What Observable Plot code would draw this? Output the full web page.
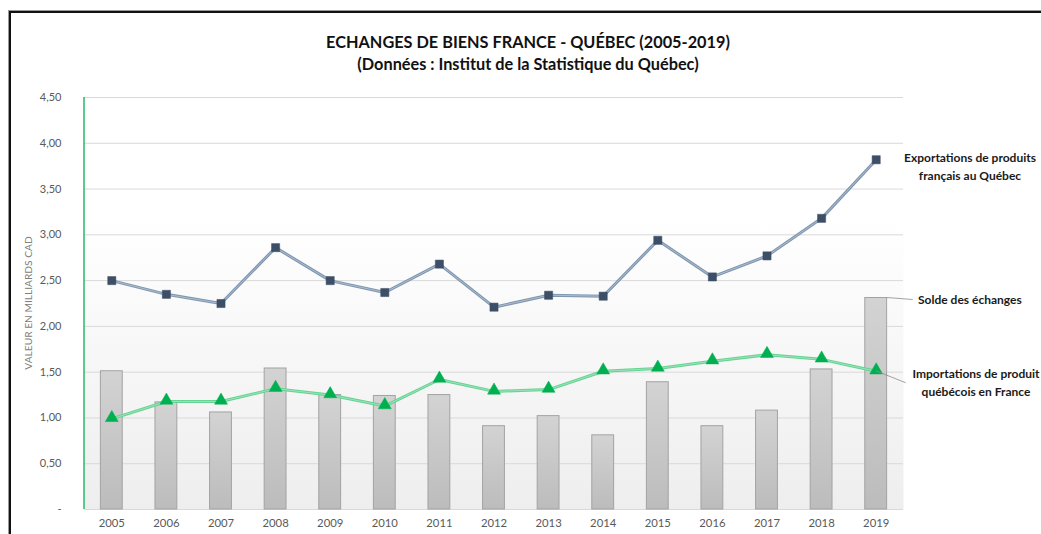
<!DOCTYPE html>
<html>
<head>
<meta charset="utf-8">
<script src="https://cdn.jsdelivr.net/npm/d3@7"></script>
<script src="https://cdn.jsdelivr.net/npm/@observablehq/plot@0.6"></script>
<style>
  html, body { margin: 0; padding: 0; background: #fff; }
  #wrap { position: relative; width: 1041px; height: 534px; overflow: hidden; font-family: Lato, "Open Sans", sans-serif; }
  #wrap svg { position: absolute; left: 0; top: 0; }
  .border { position: absolute; left: 9px; top: 11px; width: 1100px; height: 600px; border-left: 2px solid #111; border-top: 2px solid #111; box-shadow: -1px -1px 0 #999; }
  .title { position: absolute; left: 528px; transform: translateX(-50%); white-space: nowrap; font-weight: bold; font-size: 16.3px; color: #111; }
  .ylab { position: absolute; left: 28px; top: 303px; transform: translate(-50%, -50%) rotate(-90deg); white-space: nowrap; font-size: 10.2px; color: #808080; }
  .ann { position: absolute; font-weight: bold; font-size: 12px; color: #1a1a1a; white-space: nowrap; text-align: center; line-height: 18px; }
</style>
</head>
<body>
<div id="wrap">
  <div class="border"></div>
</div>
<script>
const years = [2005, 2006, 2007, 2008, 2009, 2010, 2011, 2012, 2013, 2014, 2015, 2016, 2017, 2018, 2019];
const exportations = [2.50, 2.35, 2.25, 2.86, 2.50, 2.37, 2.68, 2.21, 2.34, 2.33, 2.94, 2.54, 2.77, 3.18, 3.82];
const importations = [0.99, 1.18, 1.18, 1.32, 1.25, 1.13, 1.42, 1.29, 1.31, 1.51, 1.54, 1.62, 1.69, 1.64, 1.51];
const solde = [1.51, 1.17, 1.06, 1.54, 1.25, 1.24, 1.25, 0.91, 1.02, 0.81, 1.39, 0.91, 1.08, 1.53, 2.31];
const yTicks = [0, 0.5, 1, 1.5, 2, 2.5, 3, 3.5, 4, 4.5];

const titleText = "ECHANGES DE BIENS FRANCE - QUÉBEC (2005-2019)";
const subtitleText = "(Données : Institut de la Statistique du Québec)";
const yLabel = "VALEUR EN MILLIARDS CAD";
const labelExports = ["Exportations de produits", "français au Québec"];
const labelSolde = "Solde des échanges";
const labelImports = ["Importations de produit", "québécois en France"];

const data = years.map((y, i) => ({year: String(y), exp: exportations[i], imp: importations[i], solde: solde[i]}));

const plot = Plot.plot({
  width: 1041,
  height: 534,
  marginLeft: 84,
  marginRight: 138,
  marginTop: 97,
  marginBottom: 25,
  style: {fontFamily: "Lato, 'Open Sans', sans-serif", fontSize: "11px", color: "#595959", background: "transparent"},
  x: {type: "band", domain: years.map(String), paddingInner: 0.6, paddingOuter: 0.3, round: false, label: null},
  y: {domain: [0, 4.5], ticks: yTicks, label: null},
  marks: [
    Plot.frame({fill: "url(#plotbg)", stroke: null}),
    Plot.gridY(yTicks.filter(d => d > 0), {stroke: "#d9d9d9", strokeOpacity: 1, strokeWidth: 1}),
    Plot.ruleY([0], {stroke: "#d9d9d9"}),
    Plot.barY(data, {x: "year", y: "solde", fill: "url(#bargrad)", stroke: "#a3a3a3", strokeWidth: 1}),
    Plot.axisY({ticks: yTicks, tickSize: 0, tickPadding: 23, fontSize: 11, fill: "#595959",
      tickFormat: d => d === 0 ? "-" : d.toFixed(2).replace(".", ","), label: null}),
    Plot.axisX({tickSize: 0, tickPadding: 9, fontSize: 11.3, fill: "#595959", label: null}),
    Plot.line(data, {x: "year", y: "exp", stroke: "#7f96b0", strokeWidth: 3}),
    Plot.line(data, {x: "year", y: "exp", stroke: "#b7c5d4", strokeWidth: 0.8}),
    Plot.line(data, {x: "year", y: "imp", stroke: "#66d293", strokeWidth: 3}),
    Plot.line(data, {x: "year", y: "imp", stroke: "#a8e7c1", strokeWidth: 0.8}),
    Plot.dot(data, {x: "year", y: "exp", symbol: "square", r: 4.6, fill: "#3d4e67", stroke: "#3d4e67", strokeWidth: 0.5}),
    Plot.dot(data, {x: "year", y: "imp", symbol: "triangle", r: 4.8, fill: "#00b050", stroke: "#00b050", strokeWidth: 0.5, dy: -1})
  ]
});

const svg = d3.select(plot);
const defs = svg.insert("defs", ":first-child");
const bg = defs.append("linearGradient").attr("id", "plotbg").attr("x1", 0).attr("y1", 0).attr("x2", 0).attr("y2", 1);
bg.append("stop").attr("offset", "0").attr("stop-color", "#ffffff");
bg.append("stop").attr("offset", "0.3").attr("stop-color", "#ffffff");
bg.append("stop").attr("offset", "1").attr("stop-color", "#eeeeee");
const bgr = defs.append("linearGradient").attr("id", "bargrad").attr("x1", 0).attr("y1", 0).attr("x2", 0).attr("y2", 1);
bgr.append("stop").attr("offset", "0").attr("stop-color", "#d3d3d3");
bgr.append("stop").attr("offset", "1").attr("stop-color", "#bcbcbc");

// green left axis line
const xs = plot.scale("x"), ys = plot.scale("y");
svg.append("line").attr("x1", 84).attr("x2", 84).attr("y1", ys.apply(4.5)).attr("y2", ys.apply(0))
  .attr("stroke", "#00b050").attr("stroke-width", 1.3);

// leader lines from last data points
const last = data[data.length - 1];
const bx = xs.apply(last.year) + xs.bandwidth;
const cx = xs.apply(last.year) + xs.bandwidth / 2;
svg.append("line").attr("x1", bx).attr("y1", ys.apply(last.solde)).attr("x2", bx + 26).attr("y2", ys.apply(last.solde) + 2)
  .attr("stroke", "#8c8c8c").attr("stroke-width", 0.8);
svg.append("line").attr("x1", cx).attr("y1", ys.apply(last.imp)).attr("x2", cx + 30).attr("y2", ys.apply(last.imp) + 12)
  .attr("stroke", "#8c8c8c").attr("stroke-width", 0.8);

const wrap = document.getElementById("wrap");
wrap.appendChild(plot);

function addDiv(cls, html, styles) {
  const d = document.createElement("div");
  d.className = cls;
  d.innerHTML = html;
  Object.assign(d.style, styles);
  wrap.appendChild(d);
  return d;
}
addDiv("title", titleText, {top: "32px"});
addDiv("title", subtitleText, {top: "54px"});
addDiv("ylab", yLabel, {});
addDiv("ann", labelExports.join("<br>"), {left: "970px", top: "149px", transform: "translateX(-50%)"});
addDiv("ann", labelSolde, {left: "918px", top: "291px"});
addDiv("ann", labelImports.join("<br>"), {left: "976px", top: "365px", transform: "translateX(-50%)"});
</script>
</body>
</html>
